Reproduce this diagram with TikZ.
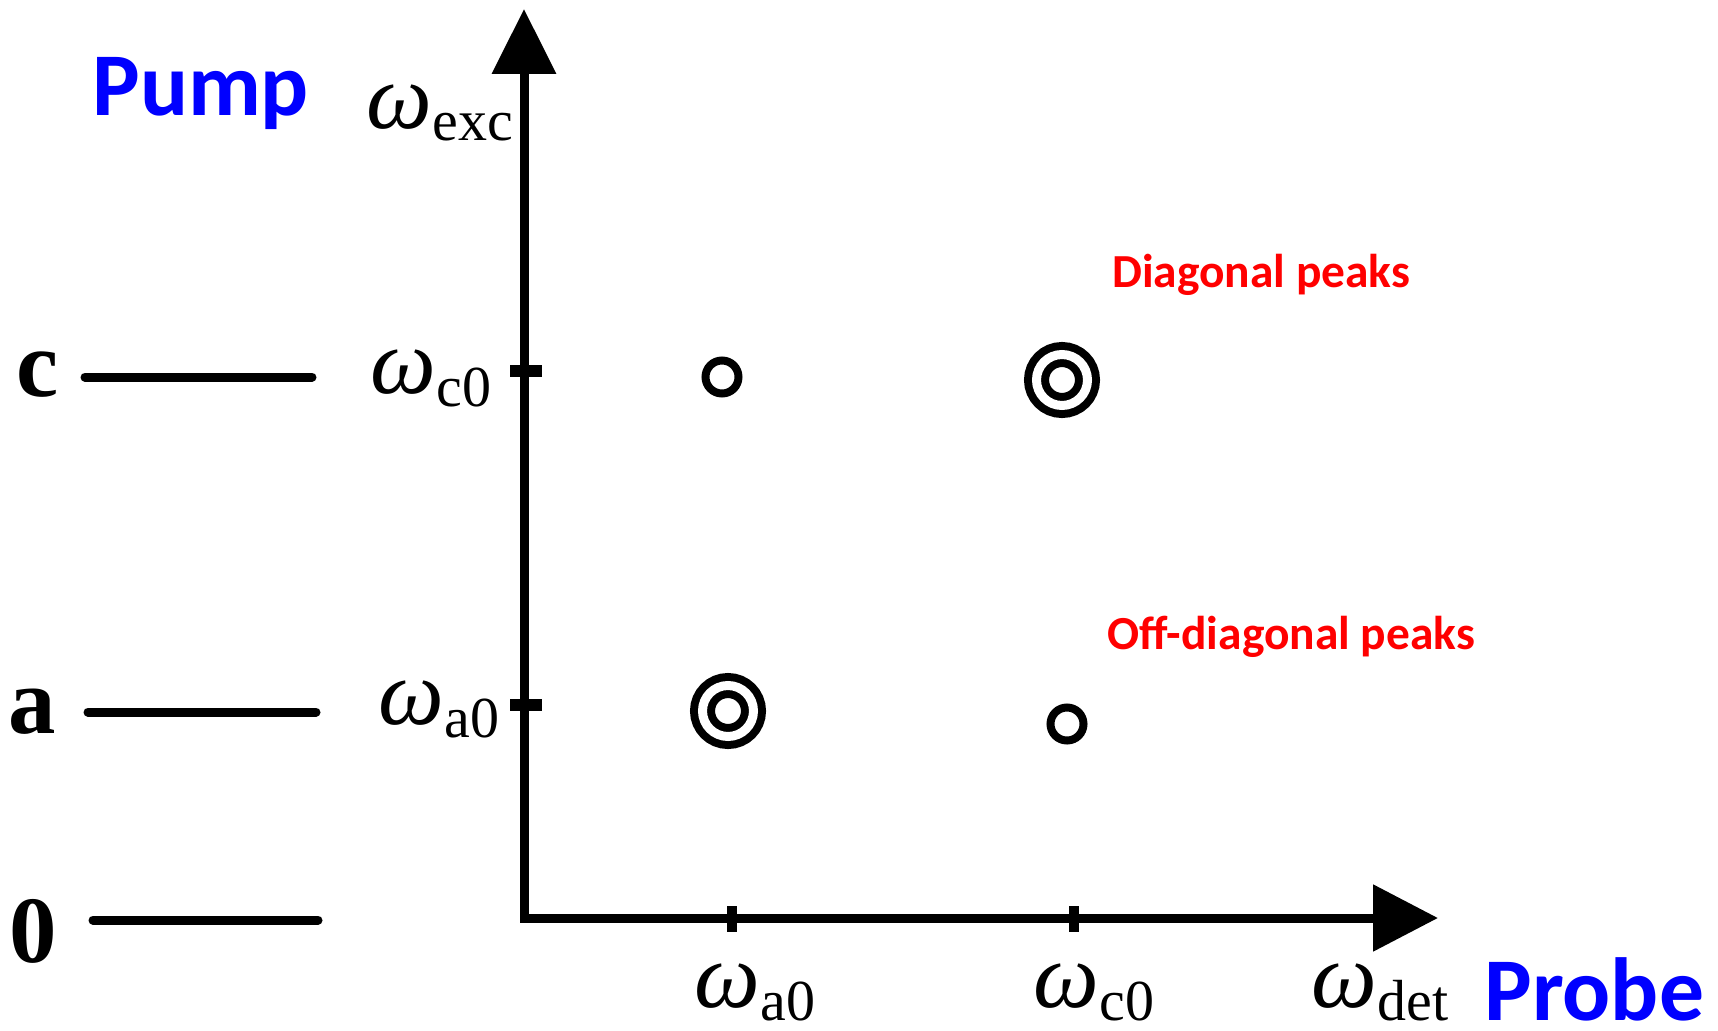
\documentclass[tikz,border=0pt]{standalone}
\usepackage{fontspec}
\setmainfont{Liberation Serif}
\newfontfamily\calibri{Carlito}
\usepackage{tikz}
\usetikzlibrary{arrows.meta,positioning}

% frequency label: omega with a small upright subscript
\newcommand{\freq}[1]{\textit{ω}\kern0.5pt\raisebox{-0.26cm}{\fontsize{33}{33}\selectfont #1}}

\begin{document}
\begin{tikzpicture}[x=0.02cm,y=-0.02cm,
  axisline/.style={line width=0.18cm},
  levelline/.style={line width=0.18cm,line cap=round},
  tickmark/.style={line width=0.25cm},
  lvl/.style={inner sep=0pt,font=\fontsize{54}{54}\selectfont\bfseries},
  freqlbl/.style={inner sep=0pt,anchor=base west,font=\fontsize{53}{53}\selectfont},
  axistitle/.style={inner sep=0pt,anchor=base west,text=blue,
    font=\fontsize{51}{51}\selectfont\calibri\bfseries},
  peaktitle/.style={inner sep=0pt,anchor=base west,text=red,
    font=\fontsize{27}{27}\selectfont\calibri\bfseries},
  peak/.style={circle,draw,line width=0.16cm,inner sep=0pt,minimum size=0.66cm},
  bigpeak/.style={circle,draw,line width=0.16cm,double=white,
    double distance=0.18cm,inner sep=0pt,minimum size=1.02cm}]
\useasboundingbox (0,0) rectangle (1718,1031);

% axes
\coordinate (ybot) at (524,914);
\coordinate (ytip) at (524,9);
\coordinate (xbeg) at (520,918);
\coordinate (xtip) at (1438,918);
\draw[axisline,-{Triangle[length=1.3cm,width=1.25cm]}] (ybot) -- (ytip);
\draw[axisline,-{Triangle[length=1.3cm,width=1.3cm]}] (xbeg) -- (xtip);

% ticks
\coordinate (yc0) at (524,371);
\coordinate (ya0) at (524,705);
\coordinate (xa0) at (732,918);
\coordinate (xc0) at (1074,918);
\draw[tickmark] (yc0) ++(-14,0) -- ++(32,0);
\draw[tickmark] (ya0) ++(-14,0) -- ++(32,0);
\draw[tickmark,line width=0.2cm] (xa0) ++(0,-12) -- ++(0,26);
\draw[tickmark,line width=0.2cm] (xc0) ++(0,-12) -- ++(0,26);

% axis labels
\node[freqlbl] (wexc) at (366,128) {\freq{exc}};
\node[freqlbl] (wc0y) at (370,393) {\freq{c0}};
\node[freqlbl] (wa0y) at (378,724) {\freq{a0}};
\node[freqlbl] (wa0x) at (694,1007) {\freq{a0}};
\node[freqlbl] (wc0x) at (1033,1007) {\freq{c0}};
\node[freqlbl] (wdet) at (1311,1007) {\freq{det}};
\node[axistitle] (pump) at (92,115) {Pump};
\node[axistitle] (probe) at (1484,1020) {Probe};

% energy levels
\node[lvl] (lvc) at (38,375) {c};
\node[lvl] (lva) at (32,712) {a};
\node[lvl] (lv0) at (33,931) {0};
\coordinate (cL) at (85,377);  \coordinate (cR) at (312,377);
\coordinate (aL) at (88,712);  \coordinate (aR) at (316,712);
\coordinate (gL) at (93,920);  \coordinate (gR) at (318,920);
\draw[levelline] (cL) -- (cR);
\draw[levelline] (aL) -- (aR);
\draw[levelline] (gL) -- (gR);

% peaks
\node[peak]    (pca) at (722,377) {};
\node[bigpeak] (pcc) at (1062,380) {};
\node[bigpeak] (paa) at (728,711) {};
\node[peak]    (pac) at (1067,724) {};
\node[peaktitle] (diag) at (1112,287) {Diagonal peaks};
\node[peaktitle] (offdiag) at (1107,649) {Off-diagonal peaks};
\end{tikzpicture}
\end{document}
